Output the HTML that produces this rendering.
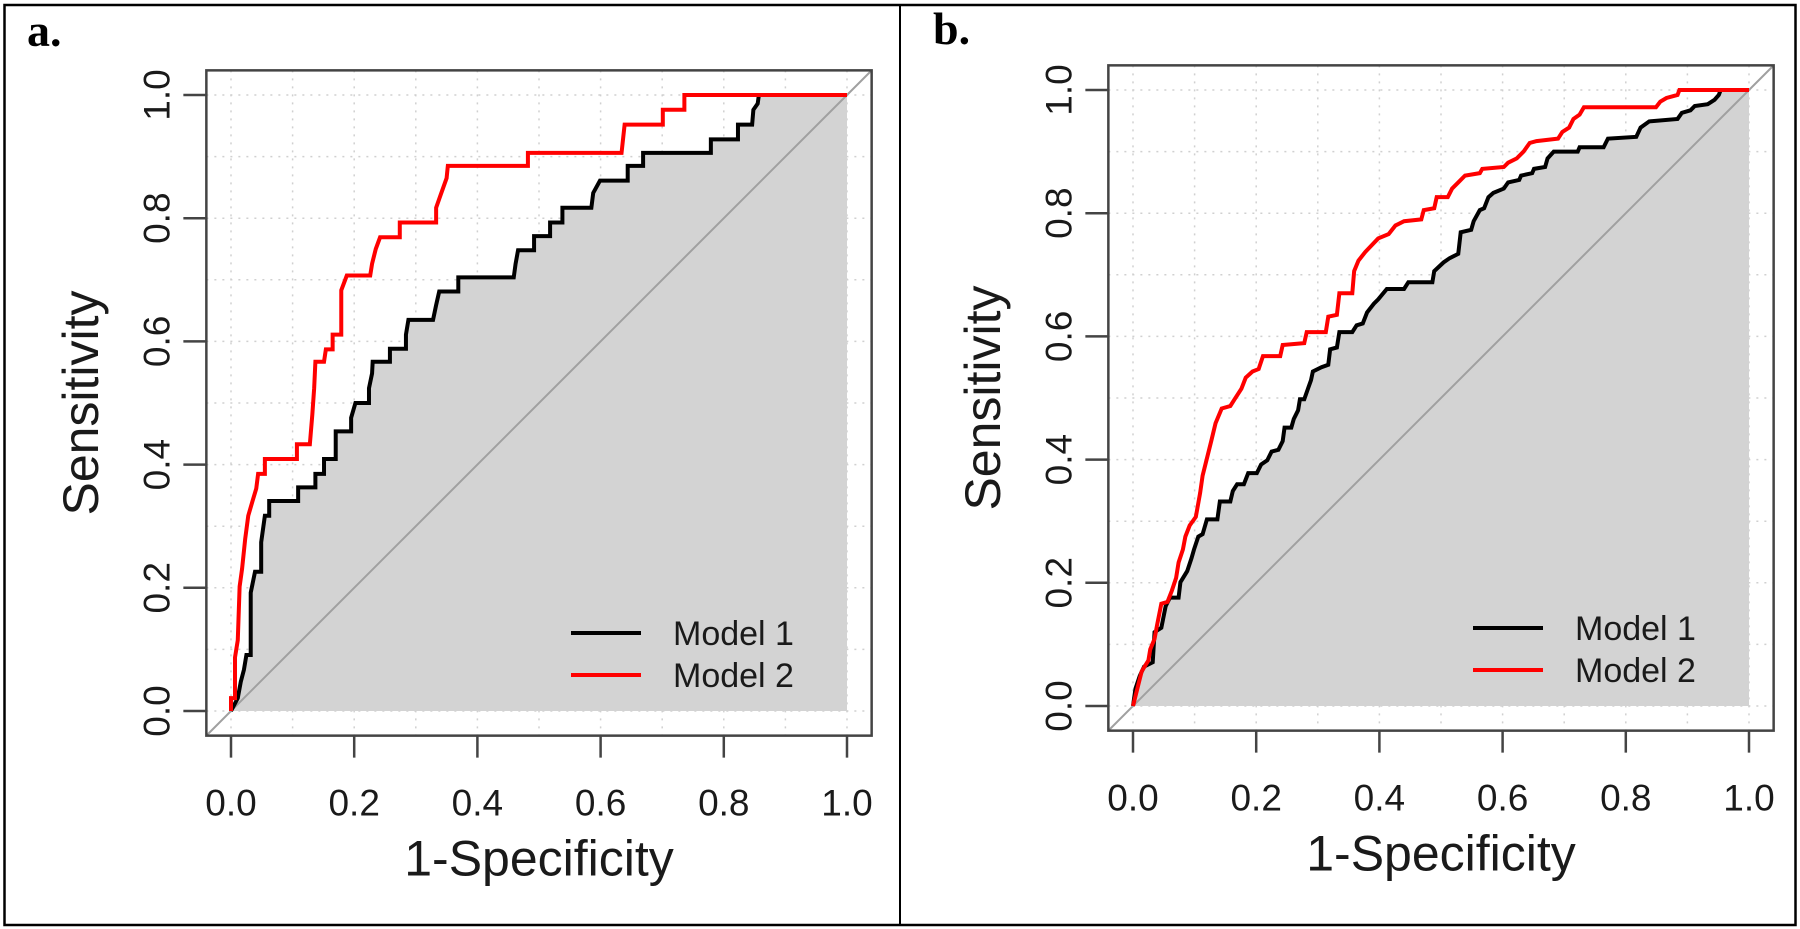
<!DOCTYPE html>
<html><head><meta charset="utf-8">
<style>
html,body{margin:0;padding:0;background:#fff;}
svg{display:block;font-family:"Liberation Sans",sans-serif;}
</style></head>
<body>
<svg id="fig" width="1800" height="929" viewBox="0 0 1800 929" xmlns="http://www.w3.org/2000/svg">
<rect x="4.5" y="5" width="1791" height="920" fill="#fff" stroke="#000" stroke-width="2.5"/>
<line x1="900" y1="5" x2="900" y2="925" stroke="#000" stroke-width="2"/>
<text x="27" y="46" font-family="Liberation Serif, serif" font-weight="bold" font-size="46">a.</text>
<text x="933" y="44" font-family="Liberation Serif, serif" font-weight="bold" font-size="46">b.</text>
</svg>
<script>
// Panel a data (1-specificity, sensitivity)
const aModel1Fpr=[0,0.011,0.016,0.021,0.025,0.032,0.032,0.039,0.049,0.049,0.055,0.062,0.062,0.109,0.109,0.137,0.137,0.151,0.151,0.170,0.170,0.195,0.195,0.202,0.224,0.224,0.229,0.230,0.258,0.258,0.284,0.284,0.288,0.328,0.333,0.338,0.369,0.369,0.459,0.462,0.466,0.492,0.492,0.518,0.518,0.538,0.538,0.585,0.588,0.599,0.644,0.644,0.669,0.669,0.779,0.779,0.823,0.823,0.846,0.848,0.855,0.857,1];
const aModel1Tpr=[0,0.021,0.048,0.067,0.091,0.091,0.192,0.226,0.226,0.274,0.317,0.317,0.341,0.341,0.363,0.363,0.385,0.385,0.409,0.409,0.454,0.454,0.476,0.5,0.5,0.524,0.548,0.567,0.567,0.588,0.588,0.611,0.635,0.635,0.659,0.681,0.681,0.704,0.704,0.726,0.748,0.748,0.771,0.771,0.793,0.793,0.817,0.817,0.841,0.861,0.861,0.885,0.885,0.906,0.906,0.928,0.928,0.952,0.952,0.976,0.986,1,1];
const aModel2Fpr=[0,0,0.0065,0.0065,0.011,0.014,0.018,0.023,0.028,0.035,0.041,0.044,0.055,0.055,0.107,0.107,0.128,0.132,0.135,0.137,0.151,0.154,0.165,0.165,0.179,0.179,0.188,0.226,0.229,0.235,0.242,0.274,0.274,0.333,0.333,0.340,0.350,0.352,0.482,0.482,0.634,0.639,0.701,0.701,0.736,0.736,1];
const aModel2Tpr=[0,0.021,0.021,0.087,0.115,0.202,0.231,0.279,0.317,0.341,0.361,0.385,0.385,0.409,0.409,0.433,0.433,0.481,0.524,0.567,0.567,0.587,0.587,0.611,0.611,0.683,0.707,0.707,0.726,0.75,0.769,0.769,0.793,0.793,0.817,0.837,0.865,0.885,0.885,0.906,0.906,0.952,0.952,0.976,0.976,1,1];
// Panel b data
const bModel1Fpr=[0,.004,.011,.018,.032,.035,.046,.053,.060,.074,.077,.088,.095,.099,.106,.113,.120,.137,.141,.158,.162,.169,.180,.187,.201,.208,.218,.225,.236,.243,.246,.257,.261,.268,.271,.278,.284,.289,.292,.306,.317,.320,.331,.335,.356,.363,.373,.380,.391,.398,.412,.440,.447,.486,.489,.504,.514,.528,.532,.549,.553,.563,.570,.577,.585,.602,.609,.627,.630,.648,.651,.669,.673,.683,.722,.725,.764,.771,.817,.824,.838,.884,.891,.905,.912,.933,.944,.951,.954,1];
const bModel1Tpr=[0,.028,.049,.064,.071,.120,.127,.162,.176,.176,.201,.219,.240,.254,.275,.279,.303,.303,.332,.332,.349,.360,.360,.378,.378,.392,.399,.413,.416,.430,.452,.452,.466,.480,.498,.498,.515,.529,.543,.550,.554,.579,.582,.607,.607,.618,.621,.639,.653,.660,.677,.677,.688,.688,.706,.720,.727,.734,.769,.773,.787,.805,.808,.826,.833,.840,.850,.854,.861,.865,.872,.875,.889,.900,.900,.907,.907,.921,.924,.939,.949,.953,.963,.967,.974,.977,.984,.992,1,1];
const bModel2Fpr=[0,.007,.014,.025,.028,.035,.039,.046,.056,.063,.070,.074,.081,.085,.092,.102,.109,.113,.120,.127,.134,.144,.158,.165,.176,.183,.194,.204,.211,.239,.243,.278,.282,.313,.317,.331,.335,.356,.359,.366,.377,.398,.415,.426,.440,.468,.472,.489,.493,.511,.518,.528,.539,.563,.567,.602,.609,.623,.634,.644,.655,.690,.697,.708,.715,.725,.732,.849,.856,.866,.884,.887,1];
const bModel2Tpr=[0,.028,.056,.074,.092,.109,.131,.166,.169,.187,.208,.233,.254,.275,.293,.307,.346,.374,.402,.430,.459,.483,.487,.498,.515,.533,.543,.547,.568,.568,.586,.589,.607,.607,.632,.635,.670,.670,.706,.723,.737,.759,.766,.780,.787,.790,.805,.808,.826,.826,.840,.850,.861,.865,.872,.875,.882,.889,.900,.914,.917,.921,.932,.939,.953,.960,.972,.972,.981,.987,.992,1,1];
const tickValues=[0,0.2,0.4,0.6,0.8,1];
const tickLabels=["0.0","0.2","0.4","0.6","0.8","1.0"];
const gridValues=[0,0.1,0.2,0.3,0.4,0.5,0.6,0.7,0.8,0.9,1];
const legendLabels=["Model 1","Model 2"];

const NS="http://www.w3.org/2000/svg";
const svg=document.getElementById('fig');
function mk(tag,attrs,parent){const e=document.createElementNS(NS,tag);for(const k in attrs)e.setAttribute(k,attrs[k]);(parent||svg).appendChild(e);return e;}

function panel(id,x0,y0,f1,t1,f2,t2){
  const S=616;
  const sx=v=>x0+v*S, sy=v=>y0-v*S;
  const g=mk('g',{});
  
  
  const L=sx(-0.04),R=sx(1.04),T=sy(1.04),B=sy(-0.04);
  gridValues.forEach(v=>{
    const gl=mk('line',{x1:sx(v),x2:sx(v),y1:T,y2:B,stroke:'#d0d0d0','stroke-width':1.5,'stroke-dasharray':'2 6'},g);
    
    
    const gh=mk('line',{x1:L,x2:R,y1:sy(v),y2:sy(v),stroke:'#d0d0d0','stroke-width':1.5,'stroke-dasharray':'2 6'},g);
    
    
  });
  let pts=f1.map((v,i)=>sx(v)+','+sy(t1[i])).join(' ')+' '+sx(1)+','+sy(0)+' '+sx(0)+','+sy(0);
  const fill=mk('polygon',{points:pts,fill:'#d3d3d3',stroke:'none'},g);
  
  
  const dg=mk('line',{x1:L,y1:B,x2:R,y2:T,stroke:'#a0a0a0','stroke-width':2},g);
  
  
  const l1=mk('polyline',{points:f1.map((v,i)=>sx(v)+','+sy(t1[i])).join(' '),fill:'none',stroke:'#000','stroke-width':4,'stroke-linejoin':'miter'},g);
  
  
  const l2=mk('polyline',{points:f2.map((v,i)=>sx(v)+','+sy(t2[i])).join(' '),fill:'none',stroke:'#ff0000','stroke-width':4,'stroke-linejoin':'miter'},g);
  
  
  const bx=mk('rect',{x:L,y:T,width:R-L,height:B-T,fill:'none',stroke:'#444','stroke-width':2.5},g);
  
  
  tickValues.forEach((v,i)=>{
    const tx=mk('line',{x1:sx(v),x2:sx(v),y1:B,y2:B+22,stroke:'#444','stroke-width':2.5},g);
    
    
    const lx=mk('text',{x:sx(v),y:B+80,'text-anchor':'middle','font-size':37,fill:'#1a1a1a'},g);
    lx.textContent=tickLabels[i];
    
    
    const ty=mk('line',{x1:L,x2:L-23,y1:sy(v),y2:sy(v),stroke:'#444','stroke-width':2.5},g);
    
    
    const cx=L-50, cy=sy(v);
    const ly=mk('text',{x:cx,y:cy,'text-anchor':'middle','font-size':37,fill:'#1a1a1a',transform:`rotate(-90 ${cx} ${cy})`,dy:13},g);
    ly.textContent=tickLabels[i];
    
    
  });
  const xt=mk('text',{x:sx(0.5),y:B+140,'text-anchor':'middle','font-size':50,fill:'#1a1a1a'},g);
  xt.textContent='1-Specificity';
  
  
  const ycx=x0-151, ycy=sy(0.5);
  const yt=mk('text',{x:ycx,y:ycy,'text-anchor':'middle','font-size':50,fill:'#1a1a1a',transform:`rotate(-90 ${ycx} ${ycy})`,dy:18},g);
  yt.textContent='Sensitivity';
  
  
  const cols=['#000','#ff0000'];
  legendLabels.forEach((lab,i)=>{
    const yy=y0-78+i*42;
    const ll=mk('line',{x1:x0+340,x2:x0+410,y1:yy,y2:yy,stroke:cols[i],'stroke-width':4},g);
    
    
    const lt=mk('text',{x:x0+442,y:yy+12,'font-size':34,fill:'#1a1a1a'},g);
    lt.textContent=lab;
    
    
  });
}
panel('a',231,711,aModel1Fpr,aModel1Tpr,aModel2Fpr,aModel2Tpr);
panel('b',1133,706,bModel1Fpr,bModel1Tpr,bModel2Fpr,bModel2Tpr);
</script>
</body></html>
